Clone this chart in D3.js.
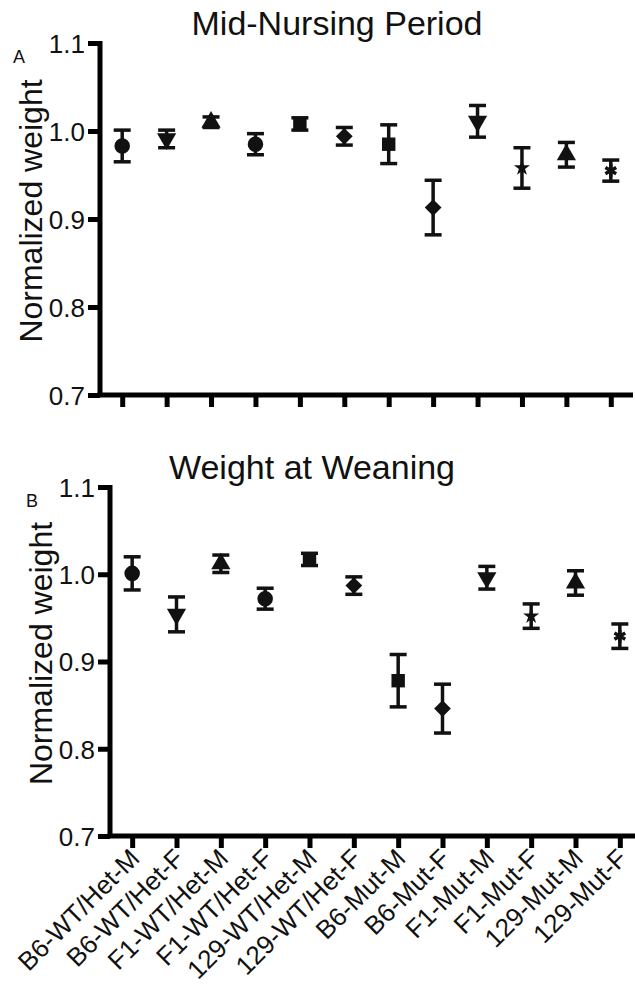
<!DOCTYPE html>
<html>
<head>
<meta charset="utf-8">
<script src="https://cdn.jsdelivr.net/npm/d3@7"></script>
<style>
  body { margin: 0; background: #fff; }
  text { font-family: "Liberation Sans", Arial, sans-serif; fill: #111; }
</style>
</head>
<body>
<div id="chart"></div>
<script>
(function() {
  var groups = ['B6-WT/Het-M','B6-WT/Het-F','F1-WT/Het-M','F1-WT/Het-F','129-WT/Het-M','129-WT/Het-F',
                'B6-Mut-M','B6-Mut-F','F1-Mut-M','F1-Mut-F','129-Mut-M','129-Mut-F'];
  var markers = ['circle','triangleDown','triangle','circle','square','diamond',
                 'square','diamond','triangleDown','star','triangle','asterisk'];

  // mid-nursing period (panel A)
  var nursingMean = [0.983, 0.991, 1.010, 0.985, 1.008, 0.994, 0.985, 0.913, 1.011, 0.958, 0.973, 0.955];
  var nursingSem  = [0.018, 0.010, 0.006, 0.012, 0.007, 0.010, 0.022, 0.031, 0.018, 0.023, 0.014, 0.012];

  // weight at weaning (panel B)
  var weaningMean = [1.001, 0.954, 1.012, 0.972, 1.017, 0.987, 0.878, 0.846, 0.996, 0.952, 0.990, 0.929];
  var weaningSem  = [0.019, 0.020, 0.010, 0.012, 0.007, 0.010, 0.030, 0.028, 0.013, 0.014, 0.014, 0.014];

  var yTicks = [0.7, 0.8, 0.9, 1.0, 1.1];

  var width = 635, height = 986;

  var svg = d3.select("#chart")
    .append("svg")
    .attr("width", width)
    .attr("height", height);

  drawPanel({ left: 100, right: 633, top: 43, bottom: 395 }, nursingMean, nursingSem,
            "Mid-Nursing Period", 337, "A", 13, false);
  drawPanel({ left: 110, right: 642, top: 487, bottom: 836 }, weaningMean, weaningSem,
            "Weight at Weaning", 312, "B", 26, true);

  function symbolFor(name) {
    var s = d3.symbol();
    if (name == 'circle') return s.type(d3.symbolCircle).size(190)();
    if (name == 'square') return s.type(d3.symbolSquare).size(180)();
    if (name == 'diamond') return s.type(d3.symbolSquare).size(140)();
    if (name == 'triangle' || name == 'triangleDown') return s.type(d3.symbolTriangle).size(160)();
    if (name == 'star') return s.type(d3.symbolStar).size(80)();
    return s.type(d3.symbolAsterisk).size(110)();
  }

  function drawPanel(box, means, sems, title, titleX, letter, letterX, showLabels) {
    var g = svg.append("g");

    var xPositionScale = d3.scalePoint()
      .domain(groups)
      .range([box.left, box.right])
      .padding(0.5);

    var yPositionScale = d3.scaleLinear()
      .domain([0.7, 1.1])
      .range([box.bottom, box.top]);

    // axes
    var yAxis = d3.axisLeft(yPositionScale)
      .tickValues(yTicks)
      .tickFormat(d3.format(".1f"))
      .tickSize(12)
      .tickSizeOuter(0);

    var yg = g.append("g")
      .attr("transform", "translate(" + box.left + ",0)")
      .call(yAxis);
    yg.selectAll("text")
      .style("font-size", "26px")
      .attr("x", -15)
      .attr("dy", "0.36em");

    var xAxis = d3.axisBottom(xPositionScale)
      .tickSize(12)
      .tickSizeOuter(0)
      .tickFormat("");

    var xg = g.append("g")
      .attr("transform", "translate(0," + box.bottom + ")")
      .call(xAxis);
    xg.select(".domain").attr("d", "M" + (box.left - 2.5) + ",0H" + box.right);
    yg.select(".domain").attr("d", "M0," + (box.top - 2) + "V" + box.bottom);

    g.selectAll(".domain, .tick line")
      .attr("stroke", "#000")
      .attr("stroke-width", 5);

    if (showLabels) {
      g.selectAll(".xlabel")
        .data(groups)
        .enter().append("text")
        .attr("class", "xlabel")
        .attr("transform", function(d) {
          return "translate(" + (xPositionScale(d) + 9) + "," + (box.bottom + 24) + ") rotate(-45)";
        })
        .style("text-anchor", "end")
        .style("font-size", "26px")
        .text(function(d) { return d; });
    }

    // y label
    g.append("text")
      .attr("transform", "translate(" + (box.left - 58) + "," + ((box.top + box.bottom) / 2 - 8) + ") rotate(-90)")
      .style("text-anchor", "middle")
      .style("font-size", "32px")
      .text("Normalized weight");

    // title
    g.append("text")
      .attr("x", titleX)
      .attr("y", box.top - 8)
      .style("text-anchor", "middle")
      .style("font-size", "34px")
      .text(title);

    g.append("text")
      .attr("x", letterX)
      .attr("y", box.top + 20)
      .style("font-size", "18px")
      .text(letter);

    // error bars
    var capWidth = 8.5;
    var bars = g.selectAll(".err")
      .data(groups)
      .enter().append("g")
      .attr("class", "err")
      .attr("stroke", "#111")
      .attr("stroke-width", 3.5);

    bars.append("line")
      .attr("x1", function(d) { return xPositionScale(d); })
      .attr("x2", function(d) { return xPositionScale(d); })
      .attr("y1", function(d, i) { return yPositionScale(means[i] + sems[i]); })
      .attr("y2", function(d, i) { return yPositionScale(means[i] - sems[i]); });

    bars.append("line")
      .attr("x1", function(d) { return xPositionScale(d) - capWidth; })
      .attr("x2", function(d) { return xPositionScale(d) + capWidth; })
      .attr("y1", function(d, i) { return yPositionScale(means[i] + sems[i]); })
      .attr("y2", function(d, i) { return yPositionScale(means[i] + sems[i]); });

    bars.append("line")
      .attr("x1", function(d) { return xPositionScale(d) - capWidth; })
      .attr("x2", function(d) { return xPositionScale(d) + capWidth; })
      .attr("y1", function(d, i) { return yPositionScale(means[i] - sems[i]); })
      .attr("y2", function(d, i) { return yPositionScale(means[i] - sems[i]); });

    // markers
    g.selectAll(".marker")
      .data(groups)
      .enter().append("path")
      .attr("class", "marker")
      .attr("d", function(d, i) { return symbolFor(markers[i]); })
      .attr("transform", function(d, i) {
        var rot = 0;
        if (markers[i] == 'triangleDown') rot = 180;
        if (markers[i] == 'diamond') rot = 45;
        return "translate(" + xPositionScale(d) + "," + yPositionScale(means[i]) + ") rotate(" + rot + ")";
      })
      .attr("fill", function(d, i) { return markers[i] == 'asterisk' ? "none" : "#111"; })
      .attr("stroke", function(d, i) { return markers[i] == 'asterisk' ? "#111" : "none"; })
      .attr("stroke-width", 3.5);
  }
})();
</script>
</body>
</html>
